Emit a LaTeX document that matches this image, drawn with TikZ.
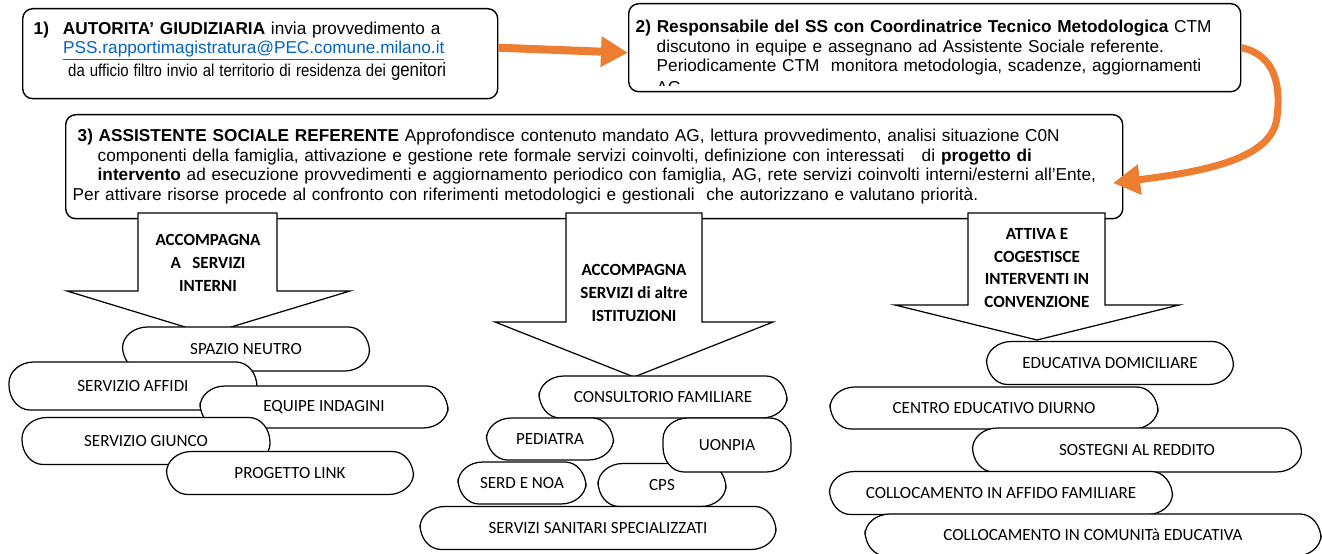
\documentclass[tikz,border=0pt]{standalone}
\usepackage{fontspec}
\usepackage{graphicx}
\setmainfont{Liberation Sans}
\newfontfamily\calibri{Carlito}
\usetikzlibrary{arrows.meta}
\definecolor{orangeline}{RGB}{237,125,49}
\definecolor{linkblue}{RGB}{5,99,193}
\tikzset{
>={Triangle[length=5.4mm, width=5.8mm]},
line join=round,
every node/.style={inner sep=0pt},
}

\begin{document}
\begin{tikzpicture}
    [x=0.2mm, y=-0.2mm,
    box/.style={draw, line width=0.8pt, rounded corners=2mm, fill=white, align=left,
        anchor=north west, font=\fontsize{9.8}{11.2}\selectfont},
    oval corners/.code={\pgfsetcornersarced{\pgfpoint{5mm}{4.2mm}}},
    pill/.style={draw, line width=0.7pt, fill=white, oval corners,
        font=\calibri\fontsize{9.7}{11}\selectfont},
    bigarrow/.style={draw, line width=0.7pt, fill=white, line join=miter},
    arrowtext/.style={align=center, font=\calibri\bfseries\fontsize{9.7}{13}\selectfont},
    flow/.style={->, draw=orangeline, line width=1.6mm}
    ]

    \useasboundingbox (0,0) rectangle (1322,554);
    \clip (0,0) rectangle (1322,554);

    \node [box, minimum width=9.5cm, minimum height=1.8cm, inner xsep=2.2mm, text width=9.06cm] (box1) at (22,8)
    {
        \textbf{1)}\hspace{2.8mm}\textbf{AUTORITA’ GIUDIZIARIA} invia provvedimento a
        \\
        \hspace*{5.9mm}\textcolor{linkblue}{\underline{PSS.rapportimagistratura@PEC.comune.milano.it}}
        \\
        \hspace*{5.9mm}\scalebox{0.87}[1]{ da ufficio filtro invio al territorio di residenza dei {\fontsize{11}{11.2}\selectfont genitori}}
        \\[-6pt]\mbox{}
    };

    \node [box, minimum width=12.24cm, minimum height=1.76cm, inner xsep=1.4mm, text width=11.96cm] (box2) at (628,3)
    {
        \textbf{2) Responsabile del SS con Coordinatrice Tecnico Metodologica} CTM
        \\
        \hspace*{4.2mm}discutono in equipe e assegnano ad Assistente Sociale referente.
        \\
        \hspace*{4.2mm}Periodicamente CTM\ \ monitora metodologia, scadenze, aggiornamenti
    };

    \begin{scope}
        \clip (630,5) rectangle (1238,86);
        \node [anchor=base west, font=\fontsize{9.8}{11.2}\selectfont] (ag) at (656,94) {AG};
    \end{scope}

    \node [box, minimum width=21.14cm, minimum height=2.08cm, inner xsep=1.4mm, text width=20.86cm] (box3) at (65,114)
    {
        \hspace*{1mm}\textbf{3) ASSISTENTE SOCIALE REFERENTE} Approfondisce contenuto mandato AG, lettura provvedimento, analisi situazione C0N
        \\
        \hspace*{5mm}componenti della famiglia, attivazione e gestione rete formale servizi coinvolti, definizione con interessati\ \ \ di \textbf{progetto di}
        \\
        \hspace*{5mm}\textbf{intervento} ad esecuzione provvedimenti e aggiornamento periodico con famiglia, AG, rete servizi coinvolti interni/esterni all’Ente,
        \\
        Per attivare risorse procede al confronto con riferimenti metodologici e gestionali\ \ che autorizzano e valutano priorità.
    };

    \coordinate (hook) at (1113,183);

    \draw[flow] ([yshift=1.2mm]box1.east) -- ([yshift=-1mm]box2.west);
    \draw[flow, line width=1.4mm] (box2.east) .. controls (1275,55) and (1281,85) .. (1277,117)
        .. controls (1273,160) and (1200,172) .. (hook);

    \draw[bigarrow] (138,213) -- (277,213) -- (277,291) -- (350,291) -- (208,334) -- (67,291) -- (138,291) -- cycle;
    \node [arrowtext] (interni) at (208,263) {ACCOMPAGNA\\A\ \ \ SERVIZI\\INTERNI};

    \draw[bigarrow] (566,213) -- (702,213) -- (702,322) -- (773,322) -- (634,377) -- (495,322) -- (566,322) -- cycle;
    \node [arrowtext] (altre) at (634,293) {ACCOMPAGNA\\SERVIZI di altre\\ISTITUZIONI};

    \draw[bigarrow] (968,213) -- (1105,213) -- (1105,305) -- (1179,305) -- (1037,340) -- (895,305) -- (968,305) -- cycle;
    \node [arrowtext] (conv) at (1037,268) {ATTIVA E\\COGESTISCE\\INTERVENTI IN\\CONVENZIONE};

    \node [pill, minimum width=4.94cm, minimum height=0.88cm] (neutro) at (246,349) {SPAZIO NEUTRO};
    \node [pill, minimum width=4.96cm, minimum height=0.96cm] (affidi) at (133,386) {SERVIZIO AFFIDI};
    \node [pill, minimum width=4.96cm, minimum height=0.84cm] (equipe) at (324,407) {EQUIPE INDAGINI};
    \node [pill, minimum width=4.96cm, minimum height=0.94cm] (giunco) at (146,441) {SERVIZIO GIUNCO};
    \node [pill, minimum width=4.94cm, minimum height=0.86cm] (link) at (290,473) {PROGETTO LINK};

    \node [pill, minimum width=4.96cm, minimum height=0.84cm] (consult) at (663,397) {CONSULTORIO FAMILIARE};
    \node [pill, minimum width=2.54cm, minimum height=0.84cm] (pediatra) at (550,439) {PEDIATRA};
    \node [pill, minimum width=2.56cm, minimum height=0.84cm] (serd) at (522,483) {SERD E NOA};
    \node [pill, minimum width=2.56cm, minimum height=0.86cm] (cps) at (662,485) {CPS};
    \node [pill, minimum width=2.56cm, minimum height=1.08cm] (uonpia) at (727,445) {UONPIA};
    \node [pill, minimum width=7.12cm, minimum height=0.86cm] (sanitari) at (598,528) {SERVIZI SANITARI SPECIALIZZATI};

    \node [pill, minimum width=4.94cm, minimum height=0.86cm] (domic) at (1110,363) {EDUCATIVA DOMICILIARE};
    \node [pill, minimum width=6.56cm, minimum height=0.84cm] (diurno) at (994,408) {CENTRO EDUCATIVO DIURNO};
    \node [pill, minimum width=6.58cm, minimum height=0.88cm] (reddito) at (1137,450) {SOSTEGNI AL REDDITO};
    \node [pill, minimum width=6.86cm, minimum height=0.86cm] (affido) at (1001,493) {COLLOCAMENTO IN AFFIDO FAMILIARE};
    \node [pill, minimum width=9.12cm, minimum height=0.84cm] (comunita) at (1093,535) {COLLOCAMENTO IN COMUNITà EDUCATIVA};

\end{tikzpicture}
\end{document}
